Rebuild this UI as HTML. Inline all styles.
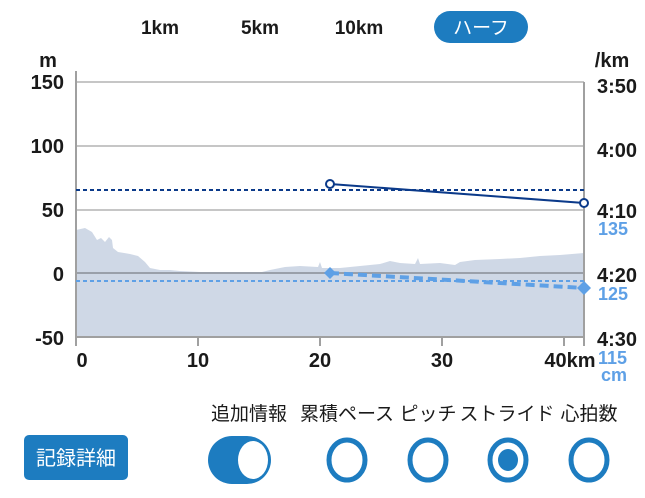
<!DOCTYPE html>
<html><head><meta charset="utf-8"><style>
html,body{margin:0;padding:0;background:#fff;}
svg{display:block;}
.b{font-family:"Liberation Sans","Noto Sans CJK JP",sans-serif;font-weight:bold;}
.j{font-family:"Liberation Sans","Noto Sans CJK JP",sans-serif;}
</style></head><body>
<svg width="645" height="498" viewBox="0 0 645 498" xmlns="http://www.w3.org/2000/svg">
<g class="b" font-size="19" fill="#1a1a1a" text-anchor="middle">
<text x="160" y="34">1km</text><text x="260" y="34">5km</text><text x="359" y="34">10km</text>
</g>
<rect x="434" y="11" width="94" height="32" rx="16" fill="#1d7cc0"/>
<text x="481" y="34" class="j" font-size="19" fill="#fff" text-anchor="middle">ハーフ</text>

<polygon fill="#cfd8e6" points="76,337 76,230 85,228 92,232 97,240 101,238 105,242 109,237 112,240 113,248 118,252 130,254 138,256 145,262 150,268 160,270 170,270 180,271 200,272 230,272 250,272 258,273 270,270 285,267 300,266 318,267 320,262 322,268 340,268 360,266 380,264 390,261 400,263 415,264 418,258 420,264 440,263 455,265 460,262 475,260 500,259 520,258 540,256 560,255 584,253 584,337"/>
<g stroke="#b3b3b3" stroke-width="1.5">
<line x1="76" y1="82" x2="584" y2="82"/><line x1="76" y1="146" x2="584" y2="146"/><line x1="76" y1="210" x2="584" y2="210"/>
</g>
<line x1="76" y1="273" x2="584" y2="273" stroke="#9aa0aa" stroke-width="2"/>
<line x1="76" y1="71" x2="76" y2="337" stroke="#a0a0a0" stroke-width="2"/>
<line x1="584" y1="82" x2="584" y2="337" stroke="#a0a0a0" stroke-width="2"/>
<line x1="76" y1="337" x2="584" y2="337" stroke="#a0a0a0" stroke-width="2"/>
<g stroke="#a0a0a0" stroke-width="2">
<line x1="76" y1="337" x2="76" y2="346"/><line x1="198" y1="337" x2="198" y2="346"/><line x1="320" y1="337" x2="320" y2="346"/><line x1="442" y1="337" x2="442" y2="346"/><line x1="564" y1="337" x2="564" y2="346"/><line x1="584" y1="337" x2="584" y2="346"/>
</g>
<line x1="76" y1="190" x2="584" y2="190" stroke="#0b3a8a" stroke-width="2" stroke-dasharray="4,3"/>
<line x1="76" y1="281" x2="584" y2="281" stroke="#5ea0e6" stroke-width="2" stroke-dasharray="4,3"/>
<line x1="330" y1="184" x2="584" y2="203" stroke="#0b3a8a" stroke-width="2"/>
<circle cx="330" cy="184" r="4" fill="#fff" stroke="#0b3a8a" stroke-width="2"/>
<circle cx="584" cy="203" r="4" fill="#fff" stroke="#0b3a8a" stroke-width="2"/>
<line x1="330" y1="273" x2="584" y2="288" stroke="#5ea0e6" stroke-width="4" stroke-dasharray="9,5"/>
<polygon points="330,267 336,273 330,279 324,273" fill="#5ea0e6"/>
<polygon points="584,281 591,288 584,295 577,288" fill="#5ea0e6"/>
<g class="b" font-size="20" fill="#1a1a1a">
<text x="48" y="67" text-anchor="middle">m</text>
<g text-anchor="end"><text x="64" y="89">150</text><text x="64" y="153">100</text><text x="64" y="217">50</text><text x="64" y="281">0</text><text x="64" y="345">-50</text></g>
<text x="612" y="67" text-anchor="middle">/km</text>
<g text-anchor="start"><text x="597" y="93">3:50</text><text x="597" y="157">4:00</text><text x="597" y="218">4:10</text><text x="597" y="282">4:20</text><text x="597" y="346">4:30</text></g>
<g text-anchor="middle"><text x="82" y="367">0</text><text x="198" y="367">10</text><text x="320" y="367">20</text><text x="442" y="367">30</text><text x="570" y="367">40km</text></g>
</g>
<g class="b" font-size="18" fill="#5ea0e6" text-anchor="start">
<text x="598" y="235">135</text><text x="598" y="300">125</text><text x="598" y="364">115</text><text x="601" y="381">cm</text>
</g>
<g class="j" font-size="19" fill="#1a1a1a" text-anchor="middle">
<text x="249" y="420">追加情報</text><text x="347" y="420">累積ペース</text><text x="428" y="420">ピッチ</text><text x="507" y="420">ストライド</text><text x="589" y="420">心拍数</text>
</g>
<rect x="24" y="435" width="104" height="45" rx="5" fill="#1d7cc0"/>
<text x="76" y="465" class="j" font-size="20" fill="#fff" text-anchor="middle">記録詳細</text>
<rect x="208" y="436" width="63" height="48" rx="24" fill="#1d7cc0"/>
<ellipse cx="253" cy="460" rx="15" ry="19" fill="#fff"/>
<g fill="none" stroke="#1d7cc0" stroke-width="5">
<ellipse cx="347" cy="460" rx="18" ry="20"/><ellipse cx="428" cy="460" rx="18" ry="20"/><ellipse cx="508" cy="460" rx="18" ry="20"/><ellipse cx="589" cy="460" rx="18" ry="20"/>
</g>
<ellipse cx="508" cy="460" rx="10" ry="11" fill="#1d7cc0"/>
</svg>
</body></html>
